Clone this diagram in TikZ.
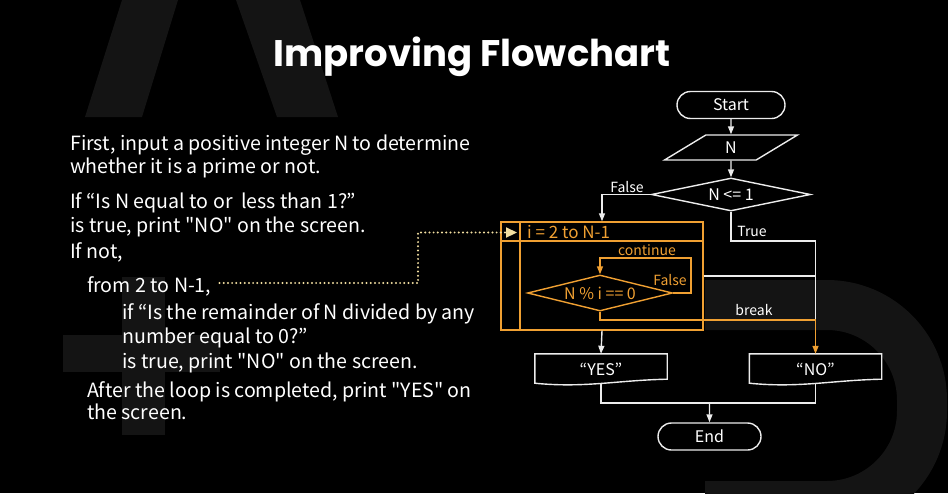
\documentclass[tikz,border=0pt]{standalone}
\usepackage{fontspec}
\setmainfont{Noto Sans CJK KR}[Ligatures=TeXOff]
\newfontfamily\titlefont{Poppins}
\usetikzlibrary{positioning,shapes.geometric,shapes.misc,arrows.meta,calc}
\definecolor{looporange}{RGB}{240,160,50}
\definecolor{dotyellow}{RGB}{242,222,160}
\definecolor{linegray}{RGB}{236,236,236}
\definecolor{bgshade}{RGB}{20,20,20}
\tikzset{
  flow/.style={draw=linegray,line width=1.4pt,text=white,inner sep=0pt,font=\fontsize{16}{18}\selectfont},
  term/.style={flow,rounded rectangle,minimum width=108pt,minimum height=27pt},
  docbox/.style={text=white,inner sep=0pt,minimum width=132pt,minimum height=30pt,font=\fontsize{16}{18}\selectfont},
  txt/.style={anchor=base west,inner sep=0pt,text=white,font=\fontsize{19.6}{22}\selectfont},
  lbl/.style={inner sep=0pt,text=white,font=\fontsize{14}{16}\selectfont},
  wline/.style={draw=linegray,line width=1.4pt},
  oline/.style={draw=looporange,line width=1.4pt},
  arr/.style={-{Triangle[length=8pt,width=6pt]}}
}
\begin{document}
\begin{tikzpicture}[x=1pt,y=-1pt]
\fill[black] (0,0) rectangle (948,493);
\useasboundingbox (0,0) rectangle (948,493);
% faint letters behind
\fill[bgshade] (85,117) -- (142,117) -- (178,0) -- (122,0) -- cycle;
\fill[bgshade] (277,117) -- (338,117) -- (300,0) -- (236,0) -- cycle;
\fill[bgshade] (122,277) rectangle (165,435);
\fill[bgshade] (63,335) rectangle (220,372);
\draw[bgshade,line width=50pt,rounded corners=95pt] (705,305) -- (922,305) -- (922,506) -- (705,506);

% title
\node[anchor=base,text=white,font=\titlefont\bfseries\fontsize{37}{40}\selectfont] (title) at (472,66) {Improving Flowchart};

% explanation
\node[txt] (l1) at (70,150) {First, input a positive integer N to determine};
\node[txt] (l2) at (70,173) {whether it is a prime or not.};
\node[txt] (l3) at (70,208) {If “Is N equal to or\ \ less than 1?”};
\node[txt] (l4) at (70,232) {is true, print "NO" on the screen.};
\node[txt] (l5) at (70,258) {If not,};
\node[txt] (from) at (87,292) {from 2 to N-1,};
\node[txt] (l7) at (122,319) {if “Is the remainder of N divided by any};
\node[txt] (l8) at (122,343) {number equal to 0?”};
\node[txt] (l9) at (122,368) {is true, print "NO" on the screen.};
\node[txt] (l10) at (87,397) {After the loop is completed, print "YES" on};
\node[txt] (l11) at (87,419) {the screen.};

% flowchart
\node[term] (start) at (731,105) {Start};
\node[flow,trapezium,trapezium left angle=51,trapezium right angle=129,trapezium stretches=true,minimum width=133pt,minimum height=25pt] (input) at (731,147.5) {N};
\node[flow,diamond,aspect=4,minimum width=159pt,minimum height=33pt] (check) at (731,194.5) {N <= 1};
\node[draw=looporange,line width=1.4pt,minimum width=202pt,minimum height=108pt,inner sep=0pt] (loop) at (602,276) {};
\draw[oline] ([xshift=19.7pt]loop.north west) -- ([xshift=19.7pt]loop.south west);
\draw[oline] ([yshift=-19.7pt]loop.north west) -- ([yshift=-19.7pt]loop.north east);
\node[lbl,anchor=west,text=looporange,font=\fontsize{17}{19}\selectfont] (head) at (527,232) {i = 2 to N-1};
\node[flow,draw=looporange,text=looporange,diamond,aspect=4,minimum width=145pt,minimum height=36pt] (rem) at (600,293) {N \% i == 0};
\node[docbox] (yes) at (601,369) {“YES”};
\node[docbox] (no) at (815.5,369) {“NO”};
\node[term,minimum width=103pt] (end) at (709.5,436.5) {End};

\foreach \b in {yes,no}
  \draw[wline] (\b.north west) -- ([yshift=1pt]\b.south west) .. controls ([xshift=50pt,yshift=-4pt]\b.south west) and ([xshift=-50pt,yshift=4pt]\b.south east) .. ([yshift=5pt]\b.south east) -- (\b.north east) -- cycle;

\coordinate (cont) at (691,258);
\coordinate (tjoin) at (815.5,241);
\coordinate (bjoin) at (815.5,320);
\coordinate (merge) at (709.5,403);
\coordinate (dot1) at (418,283);
\coordinate (loopin) at (517,232.5);

\draw[wline,arr] (start) -- (input);
\draw[wline,arr] (input) -- (check);
\draw[wline,arr] (check.west) -| (loop.north);
\draw[wline] (check.south) |- (tjoin) -- (bjoin);
\draw[wline] (loop.east) -- (loop.east -| tjoin);
\draw[oline,arr] (rem.east) -| (cont) -| (rem.north);
\draw[oline,arr] (rem.south) |- (bjoin) -- (no.north);
\draw[wline,arr] (loop.south) -- (yes.north);
\draw[wline] (yes.south) |- (merge) -| (no.south);
\draw[wline,arr] (merge) -- (end);
\draw[dotyellow,line width=2.2pt,line cap=round,dash pattern=on 0pt off 4.2pt,-{Triangle[length=11pt,width=10pt]}] (from.east |- dot1) ++(8,0) -- (dot1) |- (loopin);

% labels
\node[lbl] (lfalse) at (627,187) {False};
\node[lbl] (ltrue) at (752,231) {True};
\node[lbl] (lbreak) at (754,310) {break};
\node[lbl,text=looporange] (lcont) at (647,250) {continue};
\node[lbl,text=looporange] (lfalse2) at (670,280) {False};
\end{tikzpicture}
\end{document}
